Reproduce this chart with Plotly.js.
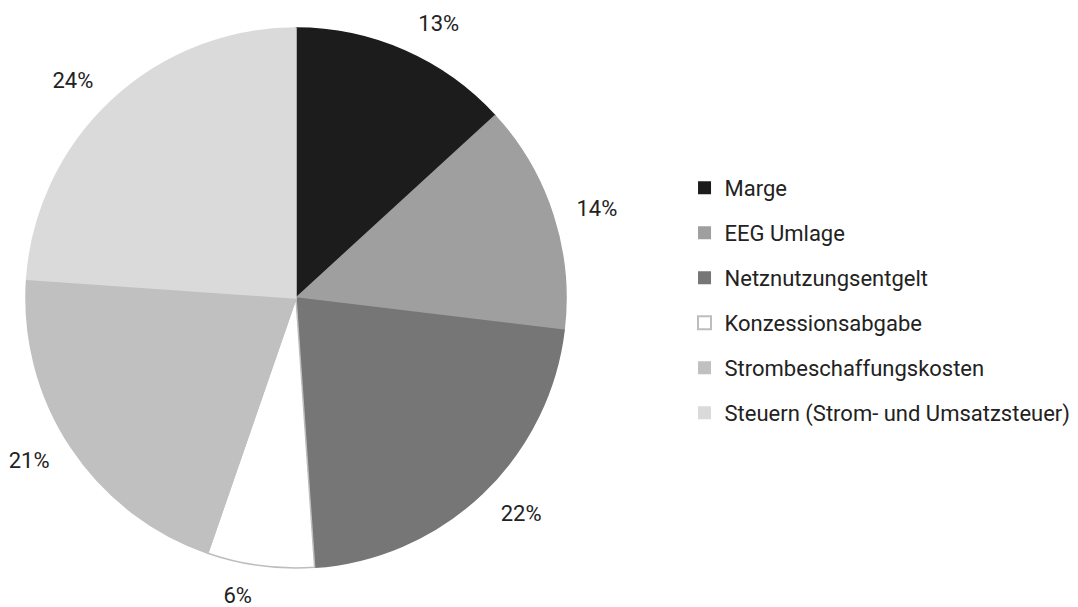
<!DOCTYPE html>
<html><head><meta charset="utf-8">
<script src="https://cdn.plot.ly/plotly-3.0.1.min.js"></script>
<style>html,body{margin:0;padding:0;background:#fff}#chart{width:1078px;height:607px}</style>
</head><body><div id="chart"></div>
<script>
const categories = ["Marge","EEG Umlage","Netznutzungsentgelt","Konzessionsabgabe","Strombeschaffungskosten","Steuern (Strom- und Umsatzsteuer)"];
const shares = [13.2, 13.7, 22.0, 6.4, 20.8, 23.9];
const colors = ["#1b1c1b","#9f9f9f","#767676","#ffffff","#c0c0c0","#dadada"];
const borders = ["#1b1c1b","#9f9f9f","#767676","#bdbdbd","#c0c0c0","#dadada"];
const FONT = 'Roboto';

const W = 1078, H = 607, cx = 296, cy = 298, R = 270, RL = 288;
const dom = r => ({x: [(cx - r) / W, (cx + r) / W], y: [(H - cy - r) / H, (H - cy + r) / H]});
const traces = [{
  type: 'pie', labels: categories, values: shares, sort: false, direction: 'clockwise', rotation: 0,
  marker: {colors: colors, line: {color: borders, width: 1.5}},
  textinfo: 'none', domain: dom(R), showlegend: false, hoverinfo: 'label+percent'
}, {
  // transparent ring that carries the percentage labels a bit outside the pie
  type: 'pie', labels: categories, values: shares, sort: false, direction: 'clockwise', rotation: 0,
  marker: {colors: categories.map(() => 'rgba(0,0,0,0)'), line: {width: 0}},
  textposition: 'outside', texttemplate: '%{percent:.0%}',
  textfont: {family: FONT, size: 22, color: '#222'},
  domain: dom(RL), showlegend: false, hoverinfo: 'skip'
}];
categories.forEach((c, i) => {
  traces.push({
    type: 'scatter', mode: 'markers', x: [null], y: [null], name: c,
    legendgroup: 'g' + i, showlegend: true,
    marker: {symbol: 'square', size: 13, color: colors[i], line: {color: borders[i], width: i === 3 ? 2 : 0}}
  });
});
const layout = {
  width: W, height: H, margin: {l: 0, r: 0, t: 0, b: 0},
  paper_bgcolor: '#fff', plot_bgcolor: '#fff',
  xaxis: {visible: false}, yaxis: {visible: false},
  showlegend: true,
  legend: {x: 0.635, xanchor: 'left', y: 0.505, yanchor: 'middle', tracegroupgap: 13.4,
           font: {family: FONT, size: 22, color: '#222'}, bgcolor: 'rgba(0,0,0,0)'},
  font: {family: FONT}
};
Plotly.newPlot('chart', traces, layout, {displayModeBar: false, staticPlot: true});
</script></body></html>
